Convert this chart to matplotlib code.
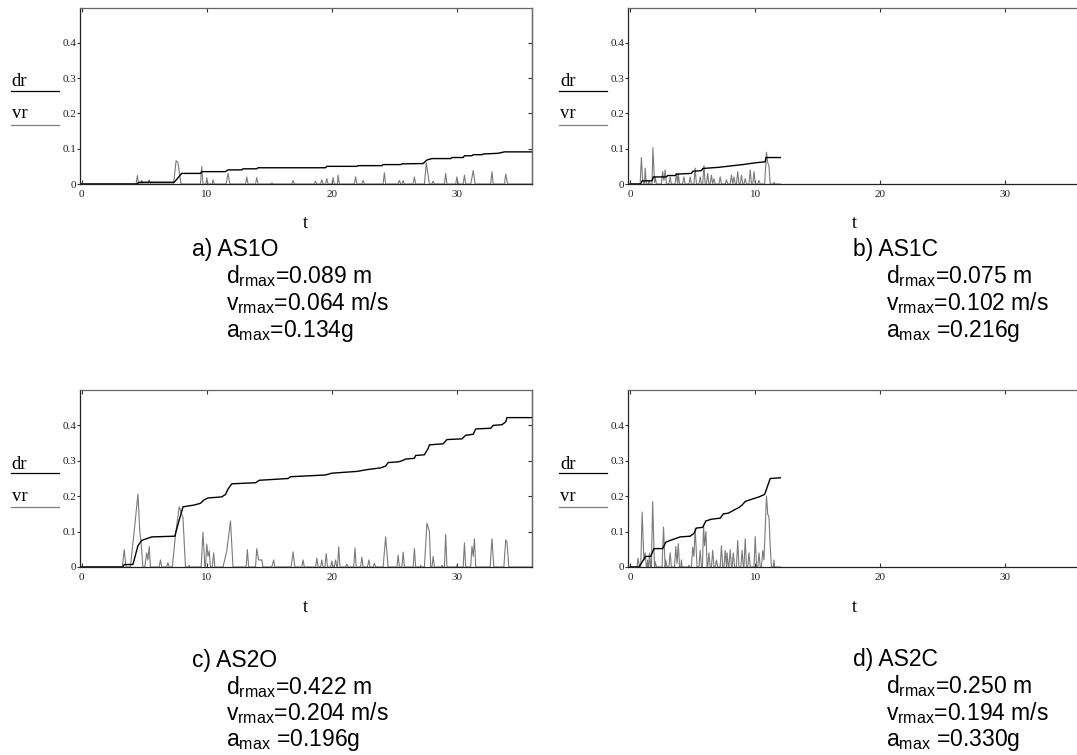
import numpy as np
import matplotlib
matplotlib.use("Agg")
import matplotlib.pyplot as plt
from matplotlib.lines import Line2D

plt.rcParams['mathtext.fontset'] = 'custom'
plt.rcParams['mathtext.rm'] = 'Liberation Sans'
plt.rcParams['mathtext.it'] = 'Liberation Sans:italic'

# --- data (t [s], value) -------------------------------------------------
# a) AS1O
a_dr = [(0, 0), (4.4, 0), (4.6, 0.005), (7.4, 0.005), (8.0, 0.03), (9.5, 0.03), (9.6, 0.035),
        (11.5, 0.035), (11.7, 0.04), (12.8, 0.04), (12.9, 0.043), (14.0, 0.043), (14.1, 0.046),
        (19.5, 0.046), (19.6, 0.05), (22.0, 0.05), (22.1, 0.052), (24.0, 0.052), (24.1, 0.055),
        (25.5, 0.055), (25.6, 0.057), (27.3, 0.058), (27.6, 0.068), (28.0, 0.072), (29.5, 0.072),
        (29.6, 0.075), (30.5, 0.075), (30.6, 0.08), (31.2, 0.08), (31.3, 0.083), (32.0, 0.083),
        (32.1, 0.085), (33.3, 0.087), (33.8, 0.091), (36.0, 0.091)]
a_vr = [(0, 0), (4.35, 0), (4.46, 0.024), (4.55, 0), (4.75, 0), (4.8, 0.01), (4.9, 0), (5.3, 0),
        (5.4, 0.012), (5.5, 0), (7.35, 0), (7.55, 0.066), (7.7, 0.06), (7.95, 0), (9.5, 0),
        (9.6, 0.05), (9.7, 0), (9.95, 0), (10.0, 0.018), (10.1, 0), (10.45, 0), (10.5, 0.012),
        (10.6, 0), (11.55, 0), (11.7, 0.03), (11.85, 0), (13.1, 0), (13.2, 0.02), (13.3, 0),
        (13.9, 0), (14.0, 0.018), (14.1, 0), (15.1, 0), (15.2, 0.003), (15.3, 0), (16.8, 0),
        (16.9, 0.01), (17.0, 0), (18.6, 0), (18.7, 0.008), (18.8, 0), (19.1, 0), (19.2, 0.012),
        (19.3, 0), (19.5, 0), (19.6, 0.015), (19.7, 0), (20.0, 0), (20.1, 0.018), (20.2, 0),
        (20.45, 0), (20.5, 0.025), (20.6, 0), (21.8, 0), (21.9, 0.02), (22.0, 0), (22.4, 0),
        (22.5, 0.01), (22.6, 0), (24.1, 0), (24.2, 0.032), (24.3, 0), (25.3, 0), (25.4, 0.01),
        (25.5, 0), (25.6, 0), (25.7, 0.01), (25.8, 0), (26.5, 0), (26.6, 0.02), (26.7, 0),
        (27.4, 0), (27.55, 0.06), (27.8, 0), (28.0, 0), (28.1, 0.008), (28.2, 0), (29.0, 0),
        (29.1, 0.03), (29.2, 0), (29.9, 0), (30.0, 0.02), (30.1, 0), (30.5, 0), (30.6, 0.025),
        (30.7, 0), (31.1, 0), (31.2, 0.018), (31.3, 0.038), (31.45, 0), (32.7, 0), (32.8, 0.035),
        (32.9, 0), (33.8, 0), (33.9, 0.028), (34.05, 0), (36.0, 0)]

# b) AS1C
b_dr = [(0, 0), (0.85, 0), (0.95, 0.009), (1.75, 0.009), (1.85, 0.02), (2.9, 0.02), (3.0, 0.024),
        (3.6, 0.024), (3.7, 0.028), (4.9, 0.03), (5.0, 0.036), (5.7, 0.038), (5.8, 0.044),
        (7.0, 0.047), (8.0, 0.051), (9.0, 0.055), (10.0, 0.06), (10.8, 0.063), (10.85, 0.075),
        (12.0, 0.075)]
b_vr = [(0, 0), (0.8, 0), (0.9, 0.075), (1.0, 0.01), (1.1, 0), (1.15, 0), (1.2, 0.045), (1.3, 0),
        (1.45, 0), (1.5, 0.01), (1.6, 0), (1.75, 0), (1.82, 0.103), (1.95, 0.005), (2.0, 0.02),
        (2.1, 0), (2.5, 0), (2.6, 0.035), (2.7, 0.01), (2.8, 0.04), (2.9, 0), (3.1, 0), (3.2, 0.02),
        (3.3, 0), (3.6, 0), (3.7, 0.03), (3.8, 0), (3.85, 0.03), (3.95, 0), (4.2, 0), (4.3, 0.02),
        (4.4, 0), (4.7, 0), (4.8, 0.02), (4.9, 0), (5.1, 0), (5.2, 0.045), (5.3, 0), (5.5, 0),
        (5.6, 0.02), (5.7, 0), (5.8, 0), (5.9, 0.052), (6.0, 0), (6.1, 0), (6.2, 0.03), (6.3, 0),
        (6.4, 0), (6.5, 0.025), (6.6, 0), (6.7, 0.015), (6.8, 0), (7.1, 0), (7.2, 0.02), (7.3, 0),
        (7.6, 0), (7.7, 0.012), (7.8, 0), (8.0, 0), (8.1, 0.025), (8.2, 0), (8.3, 0.02), (8.4, 0),
        (8.5, 0), (8.6, 0.035), (8.7, 0), (8.8, 0), (8.9, 0.025), (9.0, 0), (9.1, 0), (9.2, 0.015),
        (9.3, 0), (9.5, 0), (9.6, 0.04), (9.7, 0), (9.8, 0), (9.9, 0.035), (10.0, 0), (10.2, 0),
        (10.3, 0.01), (10.4, 0), (10.75, 0), (10.9, 0.09), (11.0, 0.06), (11.1, 0.05), (11.2, 0),
        (11.45, 0), (11.5, 0.005), (11.55, 0), (12.0, 0)]

# c) AS2O
c_dr = [(0, 0), (3.3, 0), (3.4, 0.007), (4.1, 0.007), (4.5, 0.06), (4.8, 0.075), (5.2, 0.08),
        (5.6, 0.085), (7.45, 0.087), (7.7, 0.12), (8.1, 0.17), (9.0, 0.175), (9.5, 0.18),
        (9.8, 0.19), (10.1, 0.195), (11.2, 0.198), (11.5, 0.205), (11.7, 0.22), (12.0, 0.235),
        (13.9, 0.238), (14.2, 0.245), (15.6, 0.248), (16.5, 0.25), (16.7, 0.255), (18.4, 0.258),
        (19.5, 0.26), (20.0, 0.265), (21.2, 0.268), (22.0, 0.27), (22.8, 0.275), (23.9, 0.28),
        (24.3, 0.285), (24.5, 0.295), (25.3, 0.297), (25.6, 0.3), (25.9, 0.305), (26.6, 0.307),
        (26.7, 0.315), (27.4, 0.317), (27.7, 0.335), (27.8, 0.345), (28.9, 0.348), (29.2, 0.36),
        (30.4, 0.362), (30.7, 0.372), (31.3, 0.375), (31.5, 0.39), (32.7, 0.392), (32.9, 0.4),
        (33.6, 0.402), (33.9, 0.41), (34.0, 0.422), (36.0, 0.422)]
c_vr = [(0, 0), (3.25, 0), (3.4, 0.049), (3.55, 0), (3.9, 0), (4.2, 0.1), (4.5, 0.206), (4.65, 0.1),
        (4.75, 0.07), (4.9, 0), (5.05, 0), (5.2, 0.04), (5.3, 0.02), (5.4, 0.058), (5.5, 0),
        (6.2, 0), (6.3, 0.02), (6.4, 0), (6.8, 0), (6.9, 0.012), (7.0, 0), (7.25, 0), (7.5, 0.09),
        (7.8, 0.17), (8.0, 0.15), (8.1, 0.14), (8.3, 0), (8.55, 0), (8.6, 0.005), (8.65, 0),
        (9.55, 0), (9.7, 0.098), (9.85, 0), (9.9, 0), (10.0, 0.065), (10.1, 0.03), (10.2, 0.045),
        (10.3, 0), (10.45, 0), (10.55, 0.04), (10.65, 0), (11.3, 0), (11.6, 0.045), (11.9, 0.13),
        (12.1, 0), (13.15, 0), (13.25, 0.049), (13.35, 0), (13.9, 0), (14.0, 0.052), (14.15, 0.02),
        (14.4, 0.02), (14.5, 0), (15.2, 0), (15.35, 0.02), (15.45, 0), (16.75, 0), (16.9, 0.043),
        (17.05, 0), (17.6, 0), (17.7, 0.02), (17.8, 0), (18.7, 0), (18.8, 0.025), (18.9, 0),
        (19.1, 0), (19.2, 0.02), (19.3, 0), (19.45, 0), (19.55, 0.038), (19.65, 0), (19.9, 0),
        (20.0, 0.017), (20.1, 0), (20.2, 0), (20.3, 0.02), (20.4, 0), (20.45, 0), (20.55, 0.057),
        (20.65, 0), (21.1, 0), (21.2, 0.008), (21.3, 0), (21.75, 0), (21.85, 0.054), (21.95, 0),
        (22.3, 0), (22.4, 0.028), (22.5, 0), (22.85, 0), (22.96, 0.02), (23.05, 0), (23.3, 0),
        (23.4, 0.01), (23.5, 0), (24.1, 0), (24.3, 0.085), (24.5, 0), (25.2, 0), (25.3, 0.033),
        (25.4, 0), (25.6, 0), (25.7, 0.042), (25.8, 0), (26.5, 0), (26.6, 0.052), (26.7, 0),
        (27.05, 0), (27.1, 0.005), (27.15, 0), (27.4, 0), (27.6, 0.124), (27.8, 0.1), (27.9, 0),
        (28.0, 0), (28.1, 0.03), (28.2, 0), (28.75, 0), (28.8, 0.005), (28.85, 0), (29.0, 0),
        (29.1, 0.092), (29.2, 0), (29.95, 0), (30.0, 0.005), (30.05, 0), (30.5, 0), (30.6, 0.068),
        (30.7, 0), (31.1, 0), (31.2, 0.058), (31.3, 0.03), (31.4, 0.08), (31.5, 0), (32.65, 0),
        (32.8, 0.08), (32.95, 0), (33.75, 0), (33.9, 0.077), (34.0, 0.07), (34.15, 0), (36.0, 0)]

# d) AS2C
d_dr = [(0, 0), (0.7, 0), (1.25, 0.03), (1.65, 0.03), (1.9, 0.052), (2.6, 0.052), (2.85, 0.07),
        (3.2, 0.075), (3.6, 0.08), (4.0, 0.085), (4.8, 0.087), (5.1, 0.095), (5.3, 0.11),
        (5.8, 0.112), (6.05, 0.13), (6.5, 0.135), (7.2, 0.138), (7.45, 0.15), (7.85, 0.152),
        (8.25, 0.16), (8.7, 0.168), (8.95, 0.175), (9.2, 0.185), (9.6, 0.19), (10.3, 0.198),
        (10.75, 0.205), (11.0, 0.23), (11.2, 0.25), (12.0, 0.252)]
d_vr = [(0, 0), (0.55, 0), (0.63, 0.025), (0.75, 0), (0.85, 0), (0.96, 0.155), (1.1, 0.02),
        (1.2, 0.04), (1.3, 0), (1.35, 0), (1.4, 0.02), (1.45, 0), (1.5, 0), (1.55, 0.04), (1.65, 0),
        (1.7, 0), (1.8, 0.185), (1.95, 0), (2.0, 0.015), (2.1, 0), (2.55, 0), (2.67, 0.113),
        (2.8, 0), (2.85, 0.02), (2.95, 0), (3.1, 0), (3.2, 0.04), (3.3, 0), (3.55, 0),
        (3.65, 0.058), (3.75, 0.01), (3.85, 0.066), (3.95, 0), (4.05, 0), (4.1, 0.02), (4.15, 0),
        (4.65, 0), (4.7, 0.005), (4.75, 0), (4.9, 0), (5.0, 0.056), (5.1, 0.03), (5.2, 0.11),
        (5.35, 0), (5.5, 0), (5.6, 0.047), (5.7, 0), (5.78, 0), (5.87, 0.118), (5.95, 0.06),
        (6.06, 0.10), (6.15, 0), (6.2, 0), (6.3, 0.04), (6.4, 0), (6.5, 0), (6.6, 0.047), (6.7, 0),
        (6.8, 0), (6.9, 0.02), (7.0, 0), (7.2, 0), (7.3, 0.06), (7.4, 0), (7.5, 0), (7.6, 0.047),
        (7.7, 0), (7.75, 0.04), (7.85, 0), (7.9, 0), (8.0, 0.049), (8.1, 0), (8.15, 0),
        (8.25, 0.04), (8.35, 0), (8.5, 0), (8.6, 0.075), (8.7, 0), (8.85, 0), (8.95, 0.047),
        (9.05, 0), (9.1, 0), (9.2, 0.08), (9.3, 0), (9.4, 0), (9.5, 0.04), (9.6, 0), (9.9, 0),
        (10.0, 0.086), (10.1, 0), (10.2, 0), (10.3, 0.04), (10.4, 0), (10.5, 0), (10.6, 0.047),
        (10.7, 0.02), (10.9, 0.2), (11.0, 0.15), (11.1, 0.14), (11.2, 0.056), (11.3, 0),
        (11.45, 0), (11.5, 0.02), (11.55, 0), (12.0, 0)]

names = ["a) AS1O", "b) AS1C", "c) AS2O", "d) AS2C"]
dr_max = ["0.089", "0.075", "0.422", "0.250"]
vr_max = ["0.064", "0.102", "0.204", "0.194"]
a_max = ["0.134", "0.216", "0.196", "0.330"]
amax_sep = ["", " ", " ", " "]

xticks = [0, 10, 20, 30]
yticks = [0, 0.1, 0.2, 0.3, 0.4]
ytick_labels = ["0", "0.1", "0.2", "0.3", "0.4"]

# --- figure ----------------------------------------------------------------
W, H = 1077, 755
fig = plt.figure(figsize=(W / 100, H / 100), dpi=100)
fig.patch.set_facecolor("white")

SERIF = "Liberation Serif"
SANS = "Liberation Sans"


def fx(px):
    return px / W


def fy(py):
    return 1 - py / H


def make_axes(left, top, right, bottom, dr, vr):
    ax = fig.add_axes([fx(left), fy(bottom), fx(right - left), (bottom - top) / H])
    vt, vv = np.array(vr).T
    dt, dv = np.array(dr).T
    ax.plot(vt, vv, color="#7a7a7a", lw=0.8)
    ax.plot(dt, dv, color="black", lw=1.0)
    ax.set_xlim(-0.17, 36.0)
    ax.set_ylim(0, 0.5)
    ax.set_xticks(xticks)
    ax.set_xticklabels([str(x) for x in xticks], fontsize=8, family=SERIF, color="#222222")
    ax.set_yticks(yticks)
    ax.set_yticklabels(ytick_labels, fontsize=8, family=SERIF, color="#222222")
    ax.tick_params(axis="x", direction="in", top=True, length=3, width=0.8, pad=4, color="#333333")
    ax.tick_params(axis="y", direction="out", length=2.5, width=0.8, pad=0, color="#333333")
    for side in ["left", "bottom"]:
        ax.spines[side].set_color("#222222")
        ax.spines[side].set_linewidth(0.9)
    for side in ["top", "right"]:
        ax.spines[side].set_color("#666666")
        ax.spines[side].set_linewidth(0.9)
    sec = ax.secondary_yaxis("right")
    sec.set_yticks(yticks[1:])
    sec.tick_params(direction="in", length=3, width=0.8, labelright=False, color="#333333")
    sec.spines["right"].set_color("#666666")
    sec.spines["right"].set_linewidth(0.9)

    # legend-like labels on the left
    lx = left - 69
    fig.text(fx(lx + 1), fy(top + 79), "dr", family=SERIF, fontsize=13.5, va="baseline", ha="left")
    fig.add_artist(Line2D([fx(lx), fx(lx + 48)], [fy(top + 83), fy(top + 83)],
                          color="black", lw=0.9, transform=fig.transFigure))
    fig.text(fx(lx + 1), fy(top + 111), "vr", family=SERIF, fontsize=13.5, va="baseline", ha="left")
    fig.add_artist(Line2D([fx(lx), fx(lx + 48)], [fy(top + 117), fy(top + 117)],
                          color="#808080", lw=0.9, transform=fig.transFigure))
    # x axis label
    fig.text(fx((left + right) / 2), fy(bottom + 40), "t", family=SERIF, fontsize=13,
             ha="center", va="center")
    return ax


panels = [
    (79.5, 7.5, 532, 184, a_dr, a_vr),
    (628, 7.5, 1080.5, 184, b_dr, b_vr),
    (79.5, 390, 532, 567, c_dr, c_vr),
    (628, 390, 1080.5, 567, d_dr, d_vr),
]
for p in panels:
    make_axes(*p)

# captions under each panel
text_pos = [(192, 226, [256, 283, 310, 337]),
            (853, 886, [256, 283, 310, 337]),
            (192, 226, [667, 694, 720, 746]),
            (853, 886, [666, 693, 720, 746])]
for i, (x0, x1, ys) in enumerate(text_pos):
    kw = dict(family=SANS, fontsize=16.5, va="baseline", ha="left")
    fig.text(fx(x0), fy(ys[0]), names[i], **kw)
    fig.text(fx(x1), fy(ys[1]), r"d$_{\mathrm{rmax}}$=" + dr_max[i] + " m", **kw)
    fig.text(fx(x1), fy(ys[2]), r"v$_{\mathrm{rmax}}$=" + vr_max[i] + " m/s", **kw)
    fig.text(fx(x1), fy(ys[3]), r"a$_{\mathrm{max}}$" + amax_sep[i] + "=" + a_max[i] + "g", **kw)

fig.savefig("out.png", dpi=100, facecolor="white")
